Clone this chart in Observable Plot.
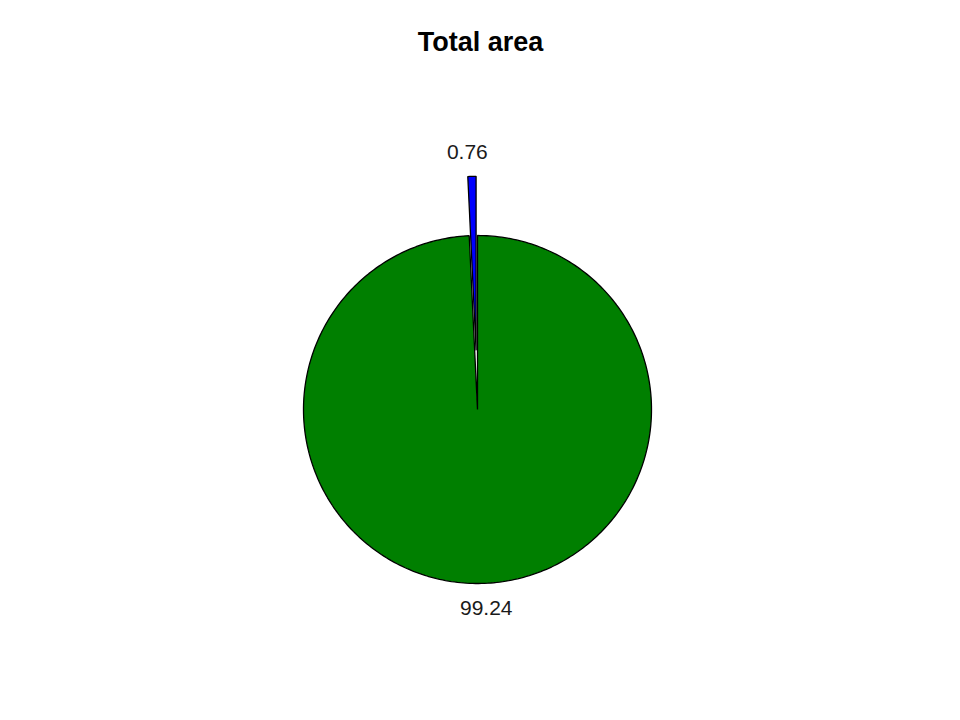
<!DOCTYPE html>
<html>
<head>
<meta charset="utf-8">
<script src="https://cdn.jsdelivr.net/npm/d3@7"></script>
<script src="https://cdn.jsdelivr.net/npm/@observablehq/plot@0.6"></script>
<style>
  html, body { margin: 0; padding: 0; background: #ffffff; }
  #chart { width: 960px; height: 720px; }
  svg { font-family: "Liberation Sans", Arial, sans-serif; }
</style>
</head>
<body>
<div id="chart"></div>
<script>
// ---- data ----
const title = "Total area";
const labels = ["0.76", "99.24"];
const values = [0.76, 99.24];
const colors = ["#0000FF", "#007F00"];
const explode = [0.34, 0];   // radial offset of each slice, in radius units

// ---- layout ----
const W = 960, H = 720;
const R = 174;            // pie radius in px
const cx = 477, cy = 409; // pie centre in px
const startAngle = Math.PI / 2; // 12 o'clock, counter-clockwise like R's pie(init.angle = 90)
const labelRadius = 1.14;
const labelNudge = 4 / R; // small sideways nudge of labels, in radius units

const total = d3.sum(values);
const slicePts = [];
const labelRows = [];
let a0 = startAngle;
values.forEach((v, i) => {
  const span = (v / total) * 2 * Math.PI;
  const a1 = a0 + span;
  const mid = (a0 + a1) / 2;
  const ox = explode[i] * Math.cos(mid), oy = explode[i] * Math.sin(mid);
  const n = Math.max(4, Math.ceil(span / (2 * Math.PI) * 360));
  slicePts.push({slice: labels[i], fill: colors[i], x: ox, y: oy});
  for (let k = 0; k <= n; k++) {
    const a = a0 + (span * k) / n;
    slicePts.push({slice: labels[i], fill: colors[i], x: ox + Math.cos(a), y: oy + Math.sin(a)});
  }
  labelRows.push({
    label: labels[i],
    x: ox + labelRadius * Math.cos(mid) + Math.sign(Math.cos(mid)) * labelNudge,
    y: oy + labelRadius * Math.sin(mid)
  });
  a0 = a1;
});

const chart = Plot.plot({
  width: W,
  height: H,
  margin: 0,
  x: {domain: [-cx / R, (W - cx) / R], axis: null},
  y: {domain: [-(H - cy) / R, cy / R], axis: null},
  color: {type: "identity"},
  style: {background: "#ffffff", fontFamily: "'Liberation Sans', Arial, sans-serif"},
  marks: [
    Plot.line(slicePts, {
      x: "x", y: "y", z: "slice",
      fill: d => d.fill,
      stroke: "#000000",
      strokeWidth: 1.3,
      strokeLinejoin: "miter",
      curve: "linear-closed"
    }),
    Plot.text(labelRows, {
      x: "x", y: "y", text: "label",
      fontSize: 21,
      fill: "#1a1a1a",
      textAnchor: "middle",
      lineAnchor: "middle"
    }),
    Plot.text([title], {
      frameAnchor: "top",
      text: d => d,
      dy: 42,
      lineAnchor: "middle",
      fontSize: 27,
      fontWeight: "bold",
      fill: "#000000"
    })
  ]
});
document.getElementById("chart").appendChild(chart);
</script>
</body>
</html>
